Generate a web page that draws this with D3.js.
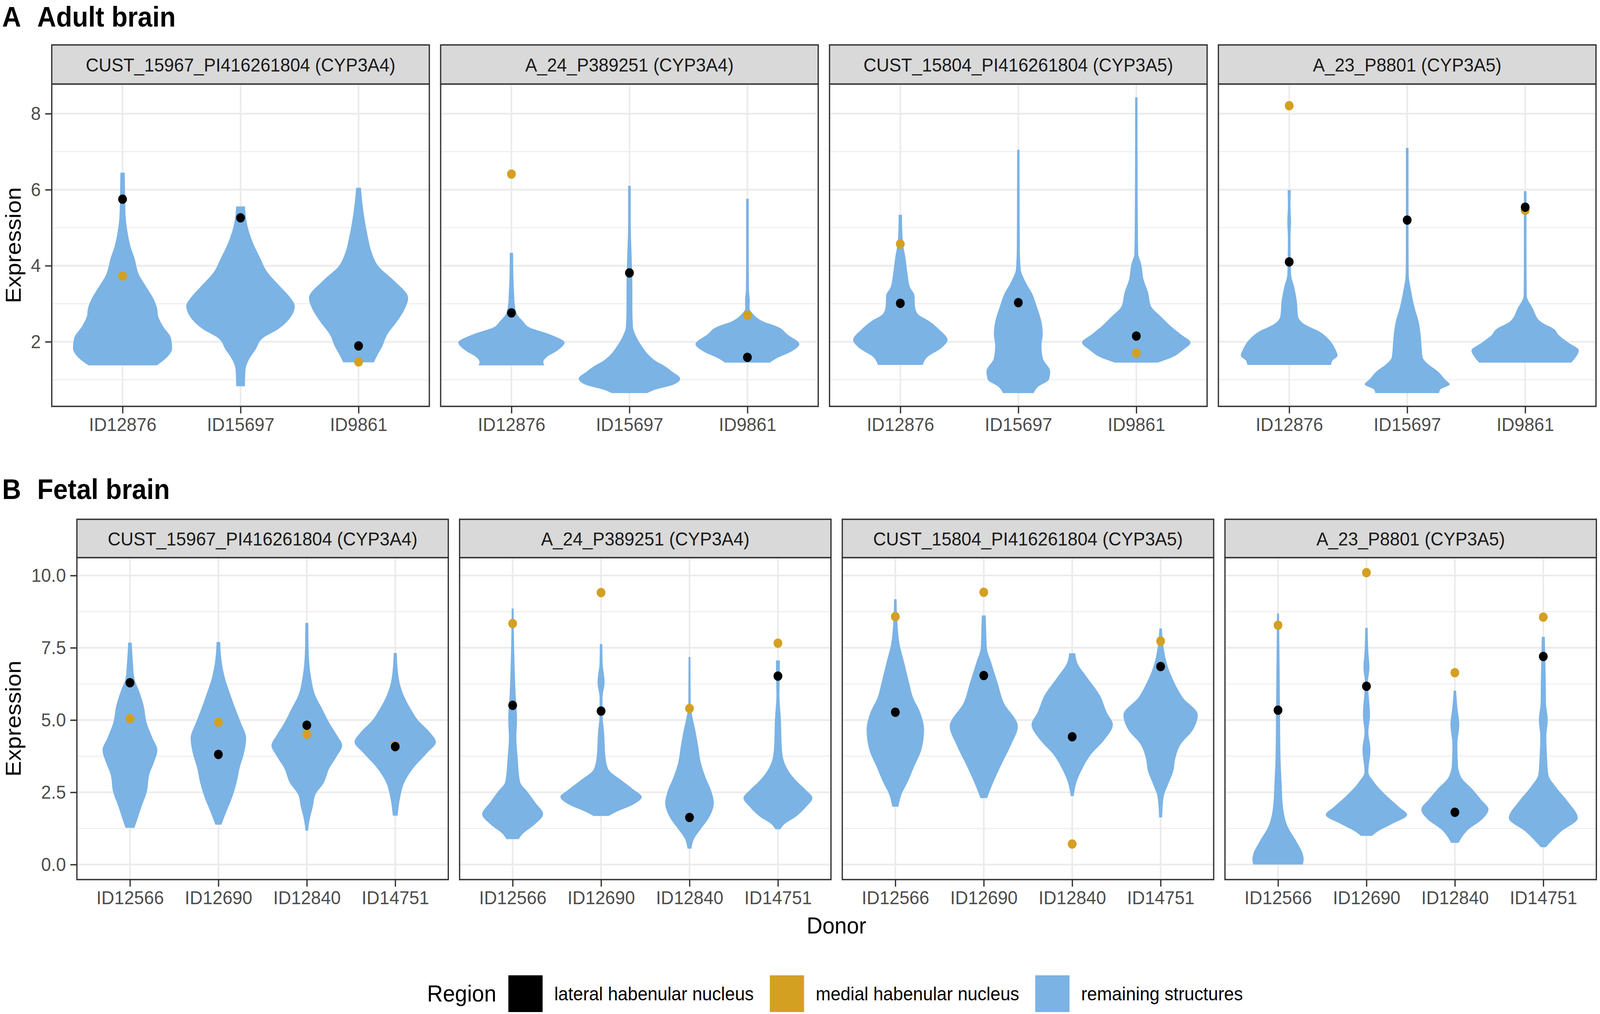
<!DOCTYPE html>
<html>
<head>
<meta charset="utf-8">
<script src="https://cdn.jsdelivr.net/npm/d3@7"></script>
<style>
  html, body { margin: 0; padding: 0; background: #fff; overflow: hidden; }
  #viz { width: 100vw; height: 100vh; }
  svg { display: block; width: 100%; height: 100%; font-family: "Liberation Sans", Arial, Helvetica, sans-serif; }
</style>
</head>
<body>
<div id="viz"></div>
<script>
// ---- data ----
const probes = [
  "CUST_15967_PI416261804 (CYP3A4)",
  "A_24_P389251 (CYP3A4)",
  "CUST_15804_PI416261804 (CYP3A5)",
  "A_23_P8801 (CYP3A5)"
];
const adultDonors = ["ID12876", "ID15697", "ID9861"];
const fetalDonors = ["ID12566", "ID12690", "ID12840", "ID14751"];

const adultTicks = [2, 4, 6, 8];
const adultMinor = [1, 3, 5, 7];
const fetalTicks = [0, 2.5, 5, 7.5, 10];
const fetalMinor = [1.25, 3.75, 6.25, 8.75];
const adultDomain = [0.3, 8.78];
const fetalDomain = [-0.52, 10.62];

// violin outlines: [expression, half width as share of the donor step], bottom to top
const adultViolins = [
  [
    [[1.38,0.29],[1.57,0.37],[1.83,0.42],[2.10,0.41],[2.40,0.345],[2.70,0.30],[2.85,0.295],[3.08,0.27],[3.45,0.20],[3.76,0.14],[4.21,0.10],[4.51,0.067],[4.89,0.042],[5.26,0.027],[5.72,0.022],[6.17,0.02],[6.45,0.018]],
    [[0.83,0.037],[1.27,0.042],[1.50,0.066],[1.80,0.128],[2.10,0.19],[2.32,0.313],[2.70,0.436],[2.94,0.46],[3.15,0.424],[3.45,0.337],[3.83,0.227],[4.21,0.165],[4.58,0.108],[5.11,0.054],[5.56,0.037]],
    [[1.46,0.13],[1.65,0.16],[1.87,0.20],[2.17,0.24],[2.55,0.33],[2.85,0.39],[3.15,0.42],[3.61,0.30],[3.98,0.17],[4.36,0.11],[4.74,0.08],[5.11,0.057],[5.72,0.03],[6.05,0.02]]
  ],
  [
    [[1.38,0.28],[1.46,0.27],[1.60,0.30],[1.77,0.39],[1.98,0.45],[2.19,0.33],[2.39,0.145],[2.53,0.10],[2.74,0.045],[3.01,0.027],[3.22,0.023],[3.77,0.016],[4.34,0.014]],
    [[0.65,0.15],[0.72,0.20],[0.88,0.38],[1.03,0.43],[1.22,0.36],[1.36,0.30],[1.50,0.22],[1.63,0.17],[1.91,0.10],[2.19,0.05],[2.39,0.03],[2.88,0.025],[3.36,0.025],[3.91,0.022],[5.15,0.011],[6.10,0.011]],
    [[1.45,0.19],[1.57,0.25],[1.74,0.37],[1.94,0.44],[2.19,0.34],[2.39,0.26],[2.53,0.136],[2.74,0.045],[2.88,0.018],[3.08,0.02],[3.36,0.013],[4.46,0.011],[5.76,0.011]]
  ],
  [
    [[1.39,0.19],[1.60,0.23],[1.84,0.35],[2.05,0.40],[2.32,0.33],[2.53,0.25],[2.74,0.145],[2.94,0.124],[3.22,0.12],[3.43,0.083],[3.77,0.062],[4.26,0.041],[4.53,0.025],[4.88,0.017],[5.34,0.014]],
    [[0.65,0.13],[0.81,0.165],[1.01,0.26],[1.22,0.27],[1.57,0.207],[1.91,0.196],[2.19,0.207],[2.53,0.196],[2.94,0.155],[3.22,0.124],[3.57,0.062],[3.91,0.02],[4.46,0.013],[5.84,0.011],[7.05,0.01]],
    [[1.45,0.18],[1.60,0.31],[1.77,0.39],[1.98,0.46],[2.19,0.38],[2.39,0.30],[2.67,0.207],[2.94,0.124],[3.29,0.10],[3.63,0.062],[4.05,0.041],[4.32,0.016],[5.15,0.013],[6.53,0.011],[8.43,0.01]]
  ],
  [
    [[1.39,0.355],[1.50,0.365],[1.63,0.41],[1.81,0.39],[2.05,0.34],[2.26,0.26],[2.46,0.13],[2.67,0.075],[3.08,0.064],[3.43,0.043],[3.77,0.016],[4.12,0.013],[4.74,0.011],[5.15,0.016],[5.57,0.011],[5.99,0.013]],
    [[0.65,0.27],[0.74,0.28],[0.88,0.36],[1.01,0.32],[1.22,0.26],[1.43,0.17],[1.60,0.13],[2.05,0.118],[2.53,0.097],[2.88,0.064],[3.36,0.032],[3.77,0.013],[5.15,0.011],[7.10,0.011]],
    [[1.45,0.39],[1.60,0.43],[1.77,0.455],[1.98,0.365],[2.19,0.28],[2.32,0.25],[2.53,0.13],[2.88,0.064],[3.22,0.013],[4.46,0.011],[5.96,0.011]]
  ]
];

const fetalViolins = [
  [
    [[1.27,0.05],[1.58,0.085],[2.00,0.13],[2.51,0.19],[3.13,0.22],[3.55,0.273],[3.96,0.31],[4.37,0.256],[4.89,0.19],[5.51,0.154],[6.03,0.10],[6.44,0.05],[6.96,0.034],[7.68,0.02]],
    [[1.38,0.034],[1.79,0.085],[2.31,0.154],[2.82,0.205],[3.34,0.24],[3.86,0.29],[4.37,0.314],[4.89,0.256],[5.41,0.19],[5.93,0.13],[6.44,0.075],[6.96,0.04],[7.70,0.02]],
    [[1.17,0.014],[1.58,0.034],[2.00,0.068],[2.41,0.096],[2.82,0.19],[3.34,0.256],[3.75,0.34],[4.12,0.40],[4.48,0.34],[4.89,0.256],[5.41,0.17],[5.82,0.10],[6.44,0.05],[7.48,0.02],[8.36,0.017]],
    [[1.69,0.027],[2.31,0.055],[2.82,0.10],[3.34,0.205],[3.86,0.36],[4.24,0.46],[4.58,0.39],[5.00,0.256],[5.41,0.17],[5.82,0.10],[6.44,0.04],[7.32,0.017]]
  ],
  [
    [[0.88,0.07],[1.05,0.11],[1.39,0.25],[1.74,0.345],[2.17,0.25],[2.51,0.17],[2.86,0.084],[3.72,0.056],[4.41,0.042],[5.01,0.05],[5.87,0.034],[6.90,0.022],[8.02,0.014],[8.86,0.011]],
    [[1.68,0.084],[1.82,0.17],[2.08,0.365],[2.34,0.46],[2.60,0.365],[2.94,0.22],[3.29,0.084],[3.72,0.05],[4.58,0.034],[5.18,0.017],[5.78,0.017],[6.30,0.04],[6.99,0.017],[7.63,0.014]],
    [[0.55,0.022],[0.88,0.05],[1.22,0.126],[1.65,0.225],[2.13,0.275],[2.51,0.25],[3.03,0.18],[3.55,0.126],[4.06,0.10],[4.58,0.07],[5.18,0.028],[5.44,0.014],[7.18,0.011]],
    [[1.22,0.028],[1.39,0.07],[1.65,0.20],[2.00,0.32],[2.30,0.39],[2.60,0.31],[2.86,0.22],[3.29,0.11],[3.72,0.056],[4.15,0.042],[5.01,0.034],[5.87,0.017],[6.73,0.022],[7.06,0.022]]
  ],
  [
    [[2.00,0.034],[2.43,0.07],[2.86,0.14],[3.37,0.21],[3.98,0.295],[4.66,0.325],[5.27,0.28],[5.78,0.20],[6.30,0.155],[6.99,0.10],[7.59,0.05],[8.45,0.022],[9.18,0.014]],
    [[2.30,0.037],[2.86,0.11],[3.46,0.20],[4.15,0.31],[4.78,0.385],[5.61,0.225],[6.30,0.155],[6.99,0.084],[7.50,0.034],[8.02,0.028],[8.62,0.022]],
    [[2.37,0.017],[2.86,0.05],[3.29,0.11],[3.80,0.21],[4.32,0.365],[4.84,0.46],[5.27,0.39],[5.87,0.31],[6.47,0.17],[6.99,0.056],[7.31,0.034]],
    [[1.63,0.017],[2.34,0.034],[2.77,0.084],[3.20,0.14],[3.72,0.17],[4.15,0.225],[4.66,0.365],[5.18,0.42],[5.78,0.25],[6.30,0.155],[6.82,0.084],[7.50,0.034],[8.17,0.014]]
  ],
  [
    [[0.00,0.28],[0.19,0.29],[0.36,0.28],[0.79,0.21],[1.31,0.11],[2.00,0.056],[2.86,0.04],[3.72,0.028],[5.44,0.022],[7.16,0.017],[8.69,0.011]],
    [[0.99,0.062],[1.14,0.126],[1.39,0.28],[1.72,0.46],[2.00,0.365],[2.43,0.21],[2.86,0.084],[3.20,0.022],[3.98,0.045],[4.58,0.022],[5.18,0.04],[6.30,0.017],[6.82,0.034],[7.33,0.022],[8.19,0.014]],
    [[0.75,0.042],[1.22,0.155],[1.57,0.31],[1.91,0.38],[2.25,0.295],[2.60,0.20],[3.03,0.07],[3.46,0.034],[4.15,0.028],[4.84,0.05],[5.44,0.028],[6.02,0.014]],
    [[0.60,0.028],[1.14,0.20],[1.61,0.39],[2.17,0.28],[2.69,0.14],[3.12,0.056],[3.72,0.042],[4.41,0.034],[5.01,0.05],[5.60,0.03],[6.30,0.028],[7.16,0.022],[7.88,0.017]]
  ]
];

// region values per probe, per donor (null = not visible)
const adultLateral = [[5.75, 5.26, 1.89], [2.76, 3.81, 1.59], [3.01, 3.03, 2.15], [4.10, 5.20, 5.54]];
const adultMedial  = [[3.73, null, 1.47], [6.41, null, 2.70], [4.57, null, 1.70], [8.21, null, 5.46]];
const fetalLateral = [[6.29, 3.81, 4.82, 4.08], [5.51, 5.31, 1.63, 6.52], [5.27, 6.54, 4.42, 6.85], [5.34, 6.17, 1.81, 7.20]];
const fetalMedial  = [[5.05, 4.92, 4.51, 4.12], [8.34, 9.41, 5.40, 7.66], [8.58, 9.42, 0.71, 7.73], [8.28, 10.10, 6.64, 8.56]];

const regions = ["lateral habenular nucleus", "medial habenular nucleus", "remaining structures"];

// ---- layout ----
const WIDTH = 4390, HEIGHT = 2595;
const GAP = 31;
const COLORS = {
  lateral: "#000000", medial: "#d4a022", remaining: "#7bb3e5",
  grid: "#ebebeb", frame: "#333333", strip: "#d9d9d9", tickText: "#4d4d4d"
};
const regionColors = [COLORS.lateral, COLORS.medial, COLORS.remaining];

const rows = [
  {letter: "A", title: "Adult brain", titleY: 68, donors: adultDonors, violins: adultViolins,
   lateral: adultLateral, medial: adultMedial, domain: adultDomain, ticks: adultTicks, minor: adultMinor,
   fmt: d3.format("d"), top: 115, stripH: 100, bottom: 1040, left: 142, panelW: 1036},
  {letter: "B", title: "Fetal brain", titleY: 1277, donors: fetalDonors, violins: fetalViolins,
   lateral: fetalLateral, medial: fetalMedial, domain: fetalDomain, ticks: fetalTicks, minor: fetalMinor,
   fmt: d3.format(".1f"), top: 1329, stripH: 98, bottom: 2251, left: 211, panelW: 1019}
];

// drawn in a 4390 x 2595 box, stretched to fill the window
const svg = d3.select("#viz").append("svg")
  .attr("viewBox", `0 0 ${WIDTH} ${HEIGHT}`)
  .attr("preserveAspectRatio", "none");
svg.append("rect").attr("width", WIDTH).attr("height", HEIGHT).attr("fill", "#fff");

rows.forEach(row => {
  const panelTop = row.top + row.stripH;
  const y = d3.scaleLinear().domain(row.domain).range([row.bottom, panelTop]);

  // panel letter + title
  svg.append("text").attr("x", 6).attr("y", row.titleY)
    .style("font-size", "72px").style("font-weight", "bold").text(row.letter);
  svg.append("text").attr("x", 102).attr("y", row.titleY)
    .style("font-size", "72px").style("font-weight", "bold").text(row.title);

  // y axis title
  svg.append("text")
    .attr("transform", `translate(57,${(panelTop + row.bottom) / 2}) rotate(-90)`)
    .attr("text-anchor", "middle")
    .style("font-size", "60px")
    .text("Expression");

  probes.forEach((probe, i) => {
    const x0 = row.left + i * (row.panelW + GAP);
    const x1 = x0 + row.panelW;
    const x = d3.scalePoint().domain(row.donors).range([x0, x1]).padding(0.6);
    const w = d3.scaleLinear().domain([0, 1]).range([0, x.step()]);
    const g = svg.append("g");

    // grid
    g.selectAll(".minor").data(row.minor).join("line")
      .attr("x1", x0).attr("x2", x1).attr("y1", d => y(d)).attr("y2", d => y(d))
      .attr("stroke", COLORS.grid).attr("stroke-width", 2.2);
    g.selectAll(".major").data(row.ticks).join("line")
      .attr("x1", x0).attr("x2", x1).attr("y1", d => y(d)).attr("y2", d => y(d))
      .attr("stroke", COLORS.grid).attr("stroke-width", 4.4);
    g.selectAll(".vgrid").data(row.donors).join("line")
      .attr("x1", d => x(d)).attr("x2", d => x(d)).attr("y1", panelTop).attr("y2", row.bottom)
      .attr("stroke", COLORS.grid).attr("stroke-width", 4.4);

    // violins
    row.violins[i].forEach((prof, j) => {
      const cx = x(row.donors[j]);
      const area = d3.area()
        .curve(d3.curveMonotoneY)
        .y(d => y(d[0]))
        .x0(d => cx - w(d[1]))
        .x1(d => cx + w(d[1]));
      g.append("path").datum(prof).attr("d", area).attr("fill", COLORS.remaining);
    });

    // region points: medial first, lateral on top
    const pts = [];
    row.donors.forEach((dn, j) => {
      if (row.medial[i][j] != null) pts.push({donor: dn, v: row.medial[i][j], c: COLORS.medial});
    });
    row.donors.forEach((dn, j) => {
      if (row.lateral[i][j] != null) pts.push({donor: dn, v: row.lateral[i][j], c: COLORS.lateral});
    });
    g.selectAll("circle").data(pts).join("circle")
      .attr("cx", d => x(d.donor)).attr("cy", d => y(d.v)).attr("r", 12)
      .attr("fill", d => d.c);

    // panel frame
    g.append("rect").attr("x", x0).attr("y", panelTop).attr("width", row.panelW)
      .attr("height", row.bottom - panelTop)
      .attr("fill", "none").attr("stroke", COLORS.frame).attr("stroke-width", 3.5);

    // strip
    g.append("rect").attr("x", x0).attr("y", row.top).attr("width", row.panelW).attr("height", row.stripH)
      .attr("fill", COLORS.strip).attr("stroke", COLORS.frame).attr("stroke-width", 3.5);
    g.append("text").attr("x", (x0 + x1) / 2).attr("y", row.top + row.stripH / 2)
      .attr("dy", "0.36em").attr("text-anchor", "middle")
      .style("font-size", "49px").style("fill", "#1a1a1a").text(probe);

    // x axis
    const xa = g.append("g").attr("transform", `translate(0,${row.bottom})`)
      .call(d3.axisBottom(x).tickSize(18).tickPadding(10));
    xa.select(".domain").remove();
    xa.selectAll("line").attr("stroke", COLORS.frame).attr("stroke-width", 3.5);
    xa.selectAll("text").style("font-size", "49px").attr("fill", COLORS.tickText)
      .style("font-family", "'Liberation Sans', Arial, sans-serif");

    // y axis on the first panel only
    if (i === 0) {
      const ya = g.append("g").attr("transform", `translate(${x0},0)`)
        .call(d3.axisLeft(y).tickValues(row.ticks).tickFormat(row.fmt).tickSize(18).tickPadding(12));
      ya.select(".domain").remove();
      ya.selectAll("line").attr("stroke", COLORS.frame).attr("stroke-width", 3.5);
      ya.selectAll("text").style("font-size", "49px").attr("fill", COLORS.tickText)
        .style("font-family", "'Liberation Sans', Arial, sans-serif");
    }
  });
});

// x axis title
svg.append("text").attr("x", 2295).attr("y", 2389).attr("text-anchor", "middle")
  .style("font-size", "60px").text("Donor");

// legend
const lg = svg.append("g");
const lgTitle = lg.append("text").attr("x", 0).attr("y", 2563).style("font-size", "60px").text("Region");
let lx = lgTitle.node().getComputedTextLength() + 33;
regions.forEach((lab, k) => {
  lg.append("rect").attr("x", lx).attr("y", 2496).attr("width", 94).attr("height", 94)
    .attr("fill", regionColors[k]);
  lx += 94 + 32;
  const t = lg.append("text").attr("x", lx).attr("y", 2560).style("font-size", "49px").text(lab);
  lx += t.node().getComputedTextLength() + 44;
});
lx -= 44;
lg.attr("transform", `translate(${2291 - lx / 2},0)`);
</script>
</body>
</html>
